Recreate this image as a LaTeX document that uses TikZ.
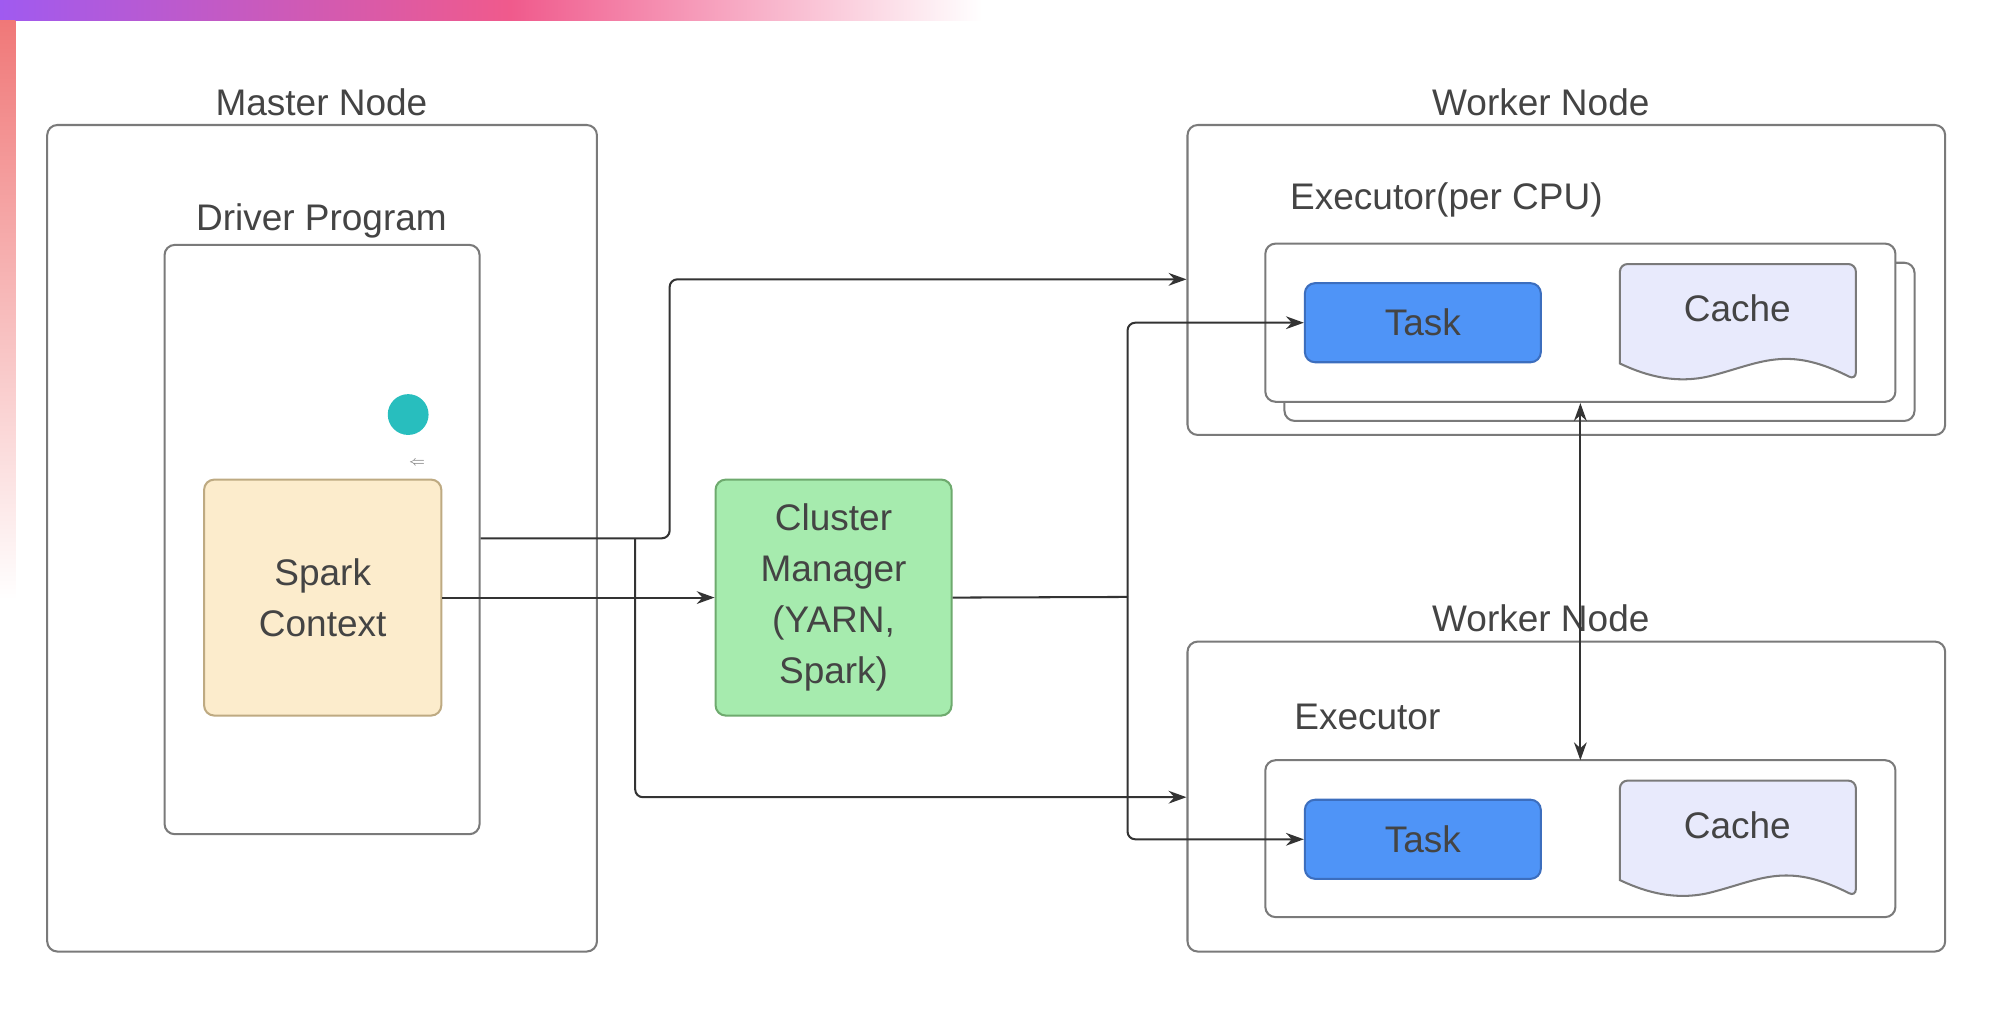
\documentclass[tikz,border=0pt]{standalone}
\usepackage{fontspec}
\setmainfont{Liberation Sans}
\usetikzlibrary{arrows.meta,calc}
\definecolor{txt}{HTML}{444444}
\definecolor{bd}{HTML}{7A7A7A}
\definecolor{ln}{HTML}{333333}
\definecolor{cachef}{RGB}{232,234,252}
\definecolor{taskf}{RGB}{79,148,247}
\definecolor{taskd}{RGB}{60,110,190}
\definecolor{scf}{RGB}{252,236,204}
\definecolor{scd}{RGB}{190,170,130}
\definecolor{cmf}{RGB}{166,235,174}
\definecolor{cmd}{RGB}{110,170,110}
\definecolor{gpur}{RGB}{160,90,240}
\definecolor{gpink}{RGB}{240,90,140}
\definecolor{gor}{RGB}{240,120,120}
\definecolor{teal1}{RGB}{40,190,190}
\begin{document}
\begin{tikzpicture}[x=0.5pt,y=-0.5pt,
  box/.style={draw=bd,line width=0.8pt,rounded corners=4pt,inner sep=0pt},
  lbl/.style={text=txt,font=\fontsize{14.5}{17}\selectfont,inner sep=0pt},
  task/.style={box,fill=taskf,draw=taskd,minimum width=92.5pt,minimum height=31pt,text=txt,font=\fontsize{14.5}{17}\selectfont},
  cache/.style={fill=cachef,draw=bd,line width=0.8pt},
  con/.style={draw=ln,line width=0.8pt,rounded corners=3pt},
  arr/.style={con,-{Stealth[length=7pt,width=5pt]}}]
\useasboundingbox (0,0) rectangle (1568,803);
\fill[white] (0,0) rectangle (1568,803);
% decorative gradient edges
\shade[left color=gpink,right color=white] (400,0) rectangle (770,16);
\shade[left color=gpur,right color=gpink] (0,0) rectangle (400,16);
\shade[top color=gor,bottom color=white] (0,16) rectangle (12,470);
% master
\node[box,minimum width=215.5pt,minimum height=324pt] (master) at (252.5,422) {};
\node[lbl] (mlbl) at (252,80) {Master Node};
\node[box,minimum width=123.5pt,minimum height=231pt] (driver) at (252.5,423) {};
\node[lbl] (dlbl) at (252,173) {Driver Program};
\fill[teal1] (320,325) circle (8pt);
\node[text=gray,font=\tiny,inner sep=0pt] (tiny) at (327,363) {$\Leftarrow$};
\node[box,fill=scf,draw=scd,minimum width=93pt,minimum height=92.5pt,align=center,text=txt,font=\fontsize{14.5}{20}\selectfont] (sc) at (253,468.5) {Spark\\Context};
\node[box,fill=cmf,draw=cmd,minimum width=92.5pt,minimum height=92.5pt,align=center,text=txt,font=\fontsize{14.5}{20}\selectfont] (cm) at (653.5,468.5) {Cluster\\Manager\\(YARN,\\Spark)};
% worker 1
\node[box,minimum width=297pt,minimum height=121.5pt] (w1) at (1228,219.5) {};
\node[lbl] (w1l) at (1208,80) {Worker Node};
\node[lbl] (e1l) at (1134,157) {Executor(per CPU)};
\node[box,fill=white,minimum width=247pt,minimum height=62pt] (e1s) at (1254,268) {};
\node[box,fill=white,minimum width=247pt,minimum height=62pt] (e1) at (1239,253) {};
\node[task] (t1) at (1115.5,253) {Task};
\path[cache,rounded corners=3pt] (1270,285) -- (1270,207) -- (1455,207) -- (1455,298) [sharp corners] .. controls (1400,270) and (1380,285) .. (1340,295) .. controls (1310,302) and (1285,292) .. (1270,285) -- cycle;
\node[lbl] (c1) at (1362,242) {Cache};
% worker 2
\node[box,minimum width=297pt,minimum height=121.5pt] (w2) at (1228,624.5) {};
\node[lbl] (w2l) at (1208,485) {Worker Node};
\node[lbl] (e2l) at (1072,562) {Executor};
\node[box,fill=white,minimum width=247pt,minimum height=61.5pt] (e2) at (1239,657.5) {};
\node[task] (t2) at (1115.5,658) {Task};
\path[cache,rounded corners=3pt] (1270,690) -- (1270,612) -- (1455,612) -- (1455,703) [sharp corners] .. controls (1400,675) and (1380,690) .. (1340,700) .. controls (1310,707) and (1285,697) .. (1270,690) -- cycle;
\node[lbl] (c2) at (1362,647) {Cache};
% connectors
\coordinate (s1) at (driver.east |- 0,422);
\draw[arr] (s1) -| (525,219) -- (w1.west |- 0,219);
\draw[arr] (498,422) |- (w2.west |- 0,625);
\draw[arr] (sc.east) -- (cm.west);
\coordinate (j) at (884,468);
\draw[con] (cm.east) -- (j);
\draw[arr] (j) |- (t1.west);
\draw[arr] (j) |- (t2.west);
\draw[draw=ln,line width=0.8pt,{Stealth[length=7pt,width=5pt]}-{Stealth[length=7pt,width=5pt]}] (1239,316) -- (1239,596);
\end{tikzpicture}
\end{document}
